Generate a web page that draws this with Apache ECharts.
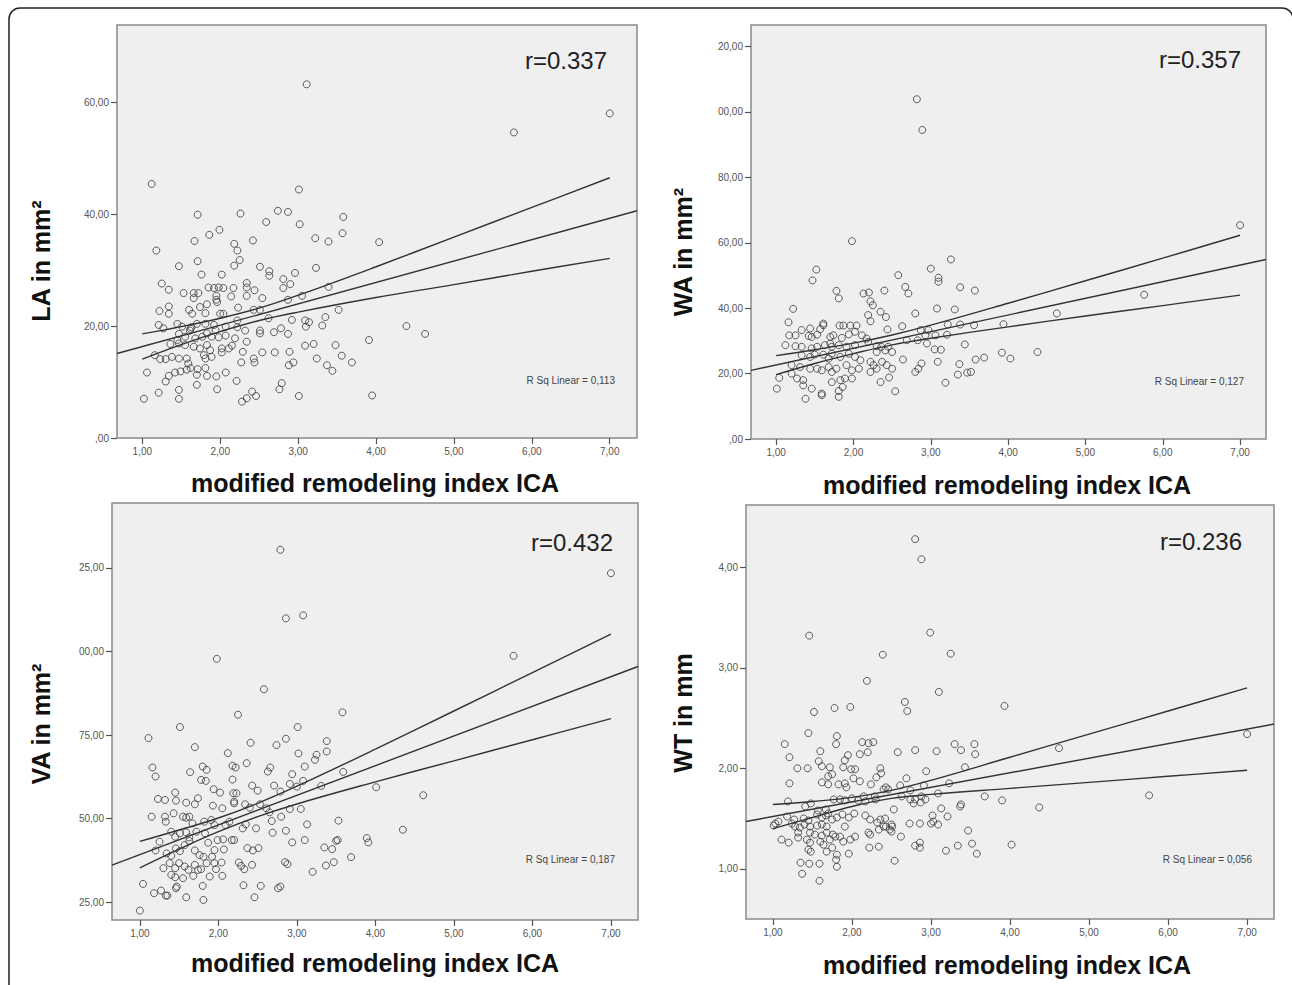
<!DOCTYPE html>
<html>
<head>
<meta charset="utf-8">
<title>Remodeling index vs. LA / WA / VA / WT</title>
<script src="https://cdn.jsdelivr.net/npm/echarts@6/dist/echarts.min.js"></script>
<style>
  html, body { margin: 0; padding: 0; background: #fff; }
  #chart { width: 1292px; height: 985px; }
</style>
</head>
<body>
<div id="chart"></div>
<script>
// shared x axis
var xTitle = 'modified remodeling index ICA'
var xTicks = [1, 2, 3, 4, 5, 6, 7]
var bandX = [1, 1.5, 2, 2.5, 3, 4, 5, 6, 7]

var yTitles = ['LA in mm²', 'WA in mm²', 'VA in mm²', 'WT in mm']
var rLabels = ['r=0.337', 'r=0.357', 'r=0.432', 'r=0.236']
var rSqLabels = ['R Sq Linear = 0,113', 'R Sq Linear = 0,127', 'R Sq Linear = 0,187', 'R Sq Linear = 0,056']

// ---- LA ----
var laTicks = [0, 20, 40, 60]
var laPoints = [
  [1.12,45.4],[3.01,44.4],[1.71,39.9],[2.26,40.1],[2.74,40.6],[2.87,40.4],[3.58,39.5],[2.59,38.6],[3.02,38.2],[1.99,37.2],
  [1.86,36.3],[3.57,36.6],[1.67,35.2],[2.42,35.3],[3.22,35.7],[3.39,35.1],[2.18,34.7],[2.22,33.5],[1.18,33.5],[2.25,31.8],
  [2.18,30.8],[1.71,31.6],[1.47,30.7],[2.51,30.6],[2.63,29.8],[2.63,29.0],[3.23,30.4],[1.76,29.2],[2.02,29.2],[2.96,29.5],
  [2.81,28.4],[2.90,27.5],[2.81,26.8],[1.25,27.6],[1.34,26.5],[1.85,26.9],[1.92,26.8],[1.98,26.9],[2.04,26.8],[2.17,26.8],
  [2.34,27.7],[2.34,26.9],[2.44,26.4],[1.53,25.9],[1.66,25.9],[1.72,25.9],[1.95,25.4],[1.95,24.7],[2.14,25.3],[2.34,25.4],
  [2.54,25.0],[2.87,24.7],[3.05,25.4],[3.39,27.0],[1.66,25.0],[1.83,23.9],[1.74,23.4],[1.96,24.3],[1.34,23.5],[1.22,22.7],
  [1.34,22.2],[1.60,22.9],[1.64,22.2],[1.81,22.3],[2.00,22.2],[2.04,22.2],[2.23,23.3],[2.43,22.9],[2.51,22.9],[2.62,21.4],
  [2.92,21.1],[3.09,21.0],[3.14,20.7],[3.35,21.6],[3.52,22.9],[3.31,20.1],[3.10,19.9],[1.21,20.2],[1.27,19.6],[1.45,20.4],
  [1.51,19.9],[1.62,19.5],[1.63,19.8],[1.61,19.2],[1.70,20.4],[1.81,20.4],[1.92,20.2],[1.94,19.3],[2.07,19.9],[2.22,21.0],
  [2.22,19.8],[2.32,19.2],[2.51,19.2],[2.51,18.7],[2.69,18.9],[2.78,19.6],[2.87,18.6],[1.47,18.6],[1.45,17.5],[1.55,18.1],
  [1.68,17.8],[1.77,18.1],[1.83,18.7],[1.89,18.1],[1.98,18.0],[2.07,18.3],[2.19,17.8],[2.34,17.2],[1.36,16.8],[1.47,16.9],
  [1.55,16.6],[1.66,16.3],[1.74,16.0],[1.83,16.6],[1.87,15.7],[2.02,16.0],[2.11,16.0],[2.15,16.5],[2.29,15.4],[2.54,15.3],
  [2.70,15.3],[2.89,15.4],[3.09,16.5],[3.20,16.8],[3.48,16.6],[1.16,14.8],[1.23,14.1],[1.30,14.1],[1.38,14.5],[1.47,14.2],
  [1.57,14.2],[1.59,13.3],[1.79,14.8],[1.81,14.2],[1.89,14.5],[2.02,15.3],[2.27,13.5],[2.43,14.2],[2.44,13.5],[2.88,13.0],
  [2.94,13.5],[3.24,14.2],[3.56,14.7],[3.69,13.5],[3.37,13.0],[3.44,12.0],[1.06,11.7],[1.30,10.1],[1.42,11.7],[1.34,11.1],
  [1.49,11.9],[1.57,12.2],[1.62,12.5],[1.71,12.3],[1.81,12.5],[1.70,11.3],[1.83,11.1],[1.95,11.0],[2.07,11.7],[2.21,10.2],
  [1.70,9.5],[1.21,8.1],[1.47,8.6],[1.47,7.0],[1.96,8.7],[1.02,7.0],[2.79,9.8],[2.76,8.7],[2.41,8.3],[2.46,7.5],
  [2.28,6.5],[2.34,7.1],[3.01,7.5],[3.11,63.2],[5.77,54.6],[7.00,58.0],[4.04,35.0],[4.39,20.0],[4.63,18.6],[3.91,17.5],
  [3.95,7.6]
]
var laFit = [[0.675, 15.1], [7.35, 40.6]]
var laUpper = [18.6, 19.9, 21.4, 23.2, 25.5, 30.6, 35.9, 41.2, 46.5]
var laLower = [14.1, 16.7, 19.0, 21.0, 22.5, 25.1, 27.4, 29.8, 32.1]

// ---- WA ----
var waTicks = [0, 20, 40, 60, 80, 100, 120]
var waPoints = [
  [1.98,60.5],[3.26,54.9],[1.52,51.8],[3.00,52.1],[1.47,48.5],[3.10,49.3],[3.10,48.1],[2.58,50.1],[2.67,46.5],[2.71,44.5],
  [3.38,46.4],[3.57,45.4],[1.78,45.3],[1.81,43.0],[2.13,44.5],[2.20,44.8],[2.40,45.4],[2.22,42.1],[2.25,40.9],[2.80,38.4],
  [3.08,39.9],[3.31,39.6],[1.22,39.8],[2.19,37.9],[2.22,36.0],[2.35,38.9],[2.42,37.3],[1.16,35.7],[1.61,35.3],[1.61,34.8],
  [1.33,33.3],[1.44,33.8],[1.57,33.6],[1.82,34.7],[1.87,34.7],[1.96,34.7],[2.04,34.7],[2.44,33.5],[2.63,34.5],[2.87,33.3],
  [2.97,33.3],[2.93,31.7],[3.22,35.0],[3.38,35.0],[3.56,34.8],[1.17,31.7],[1.25,31.7],[1.12,28.7],[1.42,31.5],[1.46,31.2],
  [1.53,31.9],[1.70,31.2],[1.74,31.7],[1.85,30.9],[1.94,32.0],[2.02,32.8],[2.11,31.7],[2.17,30.7],[2.19,29.7],[2.30,28.4],
  [2.36,28.2],[2.45,28.2],[2.69,30.2],[2.83,30.2],[3.06,31.7],[3.21,31.9],[2.95,29.2],[3.44,28.9],[1.25,28.4],[1.33,28.2],
  [1.46,27.7],[1.53,28.2],[1.63,28.7],[1.70,29.2],[1.72,28.2],[1.81,28.7],[1.91,28.2],[2.02,28.7],[2.30,26.6],[2.41,27.1],
  [2.50,26.6],[2.64,24.3],[2.88,23.1],[2.84,21.5],[2.80,20.5],[3.05,27.4],[3.13,27.3],[3.09,23.6],[3.37,22.9],[3.58,24.3],
  [3.69,24.9],[3.19,17.2],[3.35,19.7],[3.47,20.3],[3.52,20.5],[1.33,25.6],[1.44,25.1],[1.50,25.8],[1.61,25.8],[1.68,24.6],
  [1.72,26.1],[1.83,25.1],[1.94,26.1],[2.02,25.1],[2.09,24.1],[2.22,23.6],[2.26,22.6],[2.37,23.6],[2.43,22.6],[2.50,21.5],
  [1.20,22.6],[1.31,22.0],[1.44,21.5],[1.53,21.5],[1.59,21.0],[1.68,22.0],[1.72,20.5],[1.78,21.5],[1.91,22.6],[1.98,21.0],
  [2.07,21.5],[2.22,20.5],[2.30,21.5],[2.46,18.8],[2.35,17.4],[1.04,18.7],[1.01,15.4],[1.20,20.0],[1.27,18.5],[1.35,18.0],
  [1.35,16.4],[1.46,15.4],[1.38,12.3],[1.59,13.4],[1.59,13.9],[1.72,17.4],[1.83,18.0],[1.89,18.5],[1.81,14.7],[1.81,12.9],
  [1.98,18.5],[2.54,14.6],[1.86,15.9],[2.82,103.9],[2.89,94.5],[7.00,65.4],[5.76,44.1],[4.63,38.4],[3.94,35.1],[3.92,26.4],
  [4.03,24.6],[4.38,26.6]
]
var waFit = [[0.675, 21.0], [7.335, 54.9]]
var waUpper = [25.5, 27.3, 29.3, 31.8, 34.8, 41.5, 48.4, 55.3, 62.3]
var waLower = [19.7, 23.1, 26.1, 28.8, 30.8, 34.3, 37.6, 40.8, 44.0]

// ---- VA ----
var vaTicks = [25, 50, 75, 100, 125]
var vaPoints = [
  [1.98,97.8],[2.58,88.7],[3.58,81.8],[2.25,81.1],[1.51,77.4],[3.01,77.4],[1.11,74.1],[2.86,73.9],[2.74,72.0],[2.41,72.7],
  [3.38,73.2],[3.38,70.1],[1.70,71.4],[2.12,69.6],[3.02,69.5],[3.25,69.1],[3.23,67.6],[1.16,65.3],[1.20,62.6],[1.80,65.6],
  [1.85,64.6],[1.64,63.9],[2.18,65.8],[2.22,65.3],[2.36,66.6],[2.63,64.1],[2.66,65.3],[3.10,65.6],[3.59,64.0],[1.78,61.6],
  [1.84,61.3],[2.18,61.7],[2.94,63.3],[2.91,60.4],[3.00,59.6],[3.08,61.3],[3.31,59.8],[2.71,59.9],[2.43,59.9],[2.50,58.4],
  [1.94,58.8],[2.02,57.8],[2.19,57.6],[2.23,57.6],[1.45,57.8],[1.46,55.4],[1.23,55.9],[1.32,55.6],[1.59,54.8],[1.70,54.3],
  [1.74,56.1],[1.93,53.9],[2.05,53.1],[2.20,55.1],[2.20,54.6],[2.34,54.3],[2.40,53.3],[2.53,54.3],[2.61,53.1],[2.65,51.9],
  [2.79,58.1],[2.91,52.9],[3.05,52.9],[1.15,50.6],[1.32,50.6],[1.33,49.1],[1.43,51.6],[1.55,50.6],[1.59,50.3],[1.63,50.6],
  [1.67,48.6],[1.82,49.1],[1.91,49.6],[1.95,48.1],[2.09,48.1],[2.14,49.1],[2.31,47.1],[2.35,48.3],[2.48,47.1],[2.68,49.3],
  [2.69,45.8],[2.80,50.6],[2.86,46.4],[3.13,48.3],[1.25,43.1],[1.40,46.1],[1.45,44.6],[1.51,45.6],[1.59,45.9],[1.63,44.4],
  [1.72,46.1],[1.83,45.6],[1.87,42.8],[1.99,43.6],[2.06,43.8],[2.17,43.6],[2.20,43.6],[1.20,40.5],[1.34,39.6],[1.40,38.9],
  [1.46,41.1],[1.51,40.3],[1.57,42.1],[1.63,43.3],[1.70,40.5],[1.76,39.1],[1.81,38.6],[1.92,38.6],[1.95,40.6],[2.07,40.8],
  [2.37,41.2],[2.44,40.5],[2.51,41.2],[2.94,42.9],[3.10,43.6],[3.35,41.4],[3.45,40.9],[3.52,43.6],[3.69,38.5],[1.30,35.2],
  [1.38,36.7],[1.45,35.2],[1.50,36.7],[1.57,35.7],[1.62,34.7],[1.70,36.2],[1.78,34.9],[1.85,36.7],[1.95,36.7],[2.04,36.9],
  [2.26,36.9],[2.29,35.9],[2.33,34.9],[2.43,36.2],[2.85,37.0],[2.88,36.4],[3.20,34.1],[3.37,36.0],[3.47,37.0],[1.40,33.2],
  [1.45,32.5],[1.55,32.2],[1.68,32.9],[1.74,34.7],[1.89,32.7],[1.97,34.9],[2.05,32.9],[1.04,30.5],[1.18,27.7],[1.27,28.5],
  [1.33,27.0],[1.35,27.0],[1.47,29.7],[1.46,29.2],[1.59,26.5],[1.80,29.9],[1.81,25.7],[2.32,30.1],[2.54,29.9],[2.46,26.5],
  [2.76,29.2],[2.79,29.7],[1.00,22.5],[2.79,130.4],[2.86,109.9],[3.08,110.8],[7.00,123.4],[5.76,98.7],[4.01,59.4],[4.61,57.0],
  [4.35,46.7],[3.89,44.2],[3.91,42.9],[3.53,49.4],[3.50,43.4]
]
var vaFit = [[0.645, 36.1], [7.345, 95.5]]
var vaUpper = [43.2, 46.6, 50.2, 54.6, 59.7, 70.8, 82.2, 93.7, 105.2]
var vaLower = [35.3, 40.9, 46.1, 50.6, 54.4, 61.0, 67.3, 73.6, 79.9]

// ---- WT ----
var wtTicks = [1, 2, 3, 4]
var wtPoints = [
  [1.52,2.56],[1.78,2.60],[1.98,2.61],[1.45,2.35],[1.81,2.32],[1.80,2.24],[1.15,2.24],[2.13,2.26],[2.21,2.25],[2.27,2.26],
  [2.10,2.14],[2.20,2.16],[3.30,2.24],[3.38,2.18],[3.55,2.24],[3.56,2.14],[2.58,2.16],[2.80,2.18],[3.07,2.17],[1.21,2.11],
  [1.60,2.17],[1.58,2.07],[1.91,2.08],[1.95,2.13],[1.89,2.01],[1.31,2.00],[1.44,2.00],[1.62,2.02],[1.72,2.01],[1.75,1.94],
  [1.70,1.92],[1.99,1.99],[2.04,1.99],[2.02,1.90],[2.36,2.00],[2.37,1.95],[2.31,1.91],[2.94,1.97],[3.43,2.01],[1.21,1.85],
  [1.62,1.86],[1.70,1.84],[1.83,1.84],[1.91,1.85],[1.93,1.81],[2.10,1.87],[2.24,1.84],[2.43,1.81],[2.46,1.79],[2.40,1.79],
  [2.69,1.90],[2.61,1.83],[2.74,1.78],[2.91,1.83],[3.23,1.85],[3.09,1.75],[1.19,1.67],[1.41,1.62],[1.48,1.65],[1.57,1.58],
  [1.67,1.59],[1.70,1.55],[1.77,1.69],[1.85,1.69],[1.91,1.68],[2.00,1.70],[2.08,1.68],[2.15,1.72],[2.17,1.67],[2.29,1.72],
  [2.30,1.69],[2.63,1.72],[2.74,1.69],[2.80,1.69],[2.88,1.72],[2.93,1.69],[2.53,1.59],[2.78,1.65],[2.87,1.66],[3.13,1.60],
  [3.21,1.52],[3.38,1.64],[3.37,1.62],[3.68,1.72],[1.18,1.52],[1.27,1.49],[1.39,1.50],[1.45,1.48],[1.56,1.54],[1.62,1.51],
  [1.67,1.53],[1.75,1.49],[1.81,1.51],[1.88,1.54],[1.96,1.51],[2.03,1.55],[2.17,1.53],[2.23,1.49],[2.32,1.46],[2.36,1.49],
  [2.42,1.50],[2.43,1.42],[2.48,1.39],[2.51,1.42],[2.73,1.45],[2.86,1.45],[3.00,1.45],[3.03,1.47],[3.09,1.44],[1.03,1.45],
  [1.01,1.43],[1.07,1.47],[1.24,1.45],[1.28,1.42],[1.34,1.41],[1.40,1.44],[1.47,1.42],[1.56,1.43],[1.62,1.44],[1.68,1.42],
  [1.47,1.36],[1.53,1.34],[1.62,1.33],[1.68,1.36],[1.76,1.34],[1.32,1.36],[1.11,1.29],[1.20,1.26],[1.32,1.31],[1.43,1.29],
  [1.47,1.26],[1.60,1.27],[1.64,1.24],[1.72,1.29],[1.79,1.32],[1.85,1.32],[1.91,1.42],[1.89,1.27],[1.98,1.29],[2.04,1.32],
  [2.21,1.36],[2.23,1.34],[2.34,1.39],[2.40,1.42],[2.50,1.44],[2.50,1.37],[2.62,1.32],[3.02,1.53],[2.80,1.23],[2.86,1.26],
  [2.86,1.21],[3.19,1.18],[3.34,1.23],[3.52,1.25],[3.58,1.15],[3.47,1.38],[2.34,1.22],[2.22,1.21],[1.96,1.15],[1.45,1.19],
  [1.48,1.17],[1.68,1.17],[1.75,1.21],[1.81,1.14],[1.80,1.09],[1.81,1.02],[2.54,1.08],[1.35,1.06],[1.46,1.05],[1.59,1.05],
  [1.37,0.95],[1.59,0.88],[2.80,4.28],[2.88,4.08],[1.46,3.32],[2.99,3.35],[2.39,3.13],[3.25,3.14],[2.19,2.87],[3.10,2.76],
  [2.67,2.66],[2.70,2.57],[3.93,2.62],[4.62,2.20],[7.00,2.34],[5.76,1.73],[4.37,1.61],[3.90,1.68],[4.02,1.24]
]
var wtFit = [[0.66, 1.47], [7.34, 2.44]]
var wtUpper = [1.64, 1.67, 1.71, 1.78, 1.88, 2.11, 2.34, 2.57, 2.80]
var wtLower = [1.40, 1.51, 1.62, 1.70, 1.74, 1.80, 1.86, 1.92, 1.98]

// layout of the four panels (pixels) and their axis ranges
var panels = [
  { grid: { left: 117, top: 25, width: 520, height: 413 }, xr: [0.675, 7.35], yr: [0, 73.8], ticks: laTicks,
    points: laPoints, fit: laFit, upper: laUpper, lower: laLower, yTitle: [41, 261], xTitle: [375, 483], r: [607, 60], rsq: [615, 380] },
  { grid: { left: 751, top: 25, width: 515, height: 414 }, xr: [0.675, 7.335], yr: [0, 126.6], ticks: waTicks,
    points: waPoints, fit: waFit, upper: waUpper, lower: waLower, yTitle: [683, 252], xTitle: [1007, 485], r: [1241, 59], rsq: [1244, 381] },
  { grid: { left: 112, top: 503, width: 526, height: 417 }, xr: [0.645, 7.345], yr: [19.7, 144.4], ticks: vaTicks,
    points: vaPoints, fit: vaFit, upper: vaUpper, lower: vaLower, yTitle: [41, 724], xTitle: [375, 963], r: [613, 542], rsq: [615, 859] },
  { grid: { left: 746, top: 505, width: 528, height: 414 }, xr: [0.66, 7.34], yr: [0.5, 4.62], ticks: wtTicks,
    points: wtPoints, fit: wtFit, upper: wtUpper, lower: wtLower, yTitle: [683, 713], xTitle: [1007, 965], r: [1242, 541], rsq: [1252, 859] }
]

var FONT = '"Liberation Sans", Arial, Helvetica, sans-serif'

// SPSS writes ",00" for zero and a comma as decimal mark;
// the source picture is cropped so 3-digit labels lose their first digit
function spssLabel(v) {
  var s = v === 0 ? ',00' : v.toFixed(2).replace('.', ',')
  return s.length > 5 ? s.slice(-5) : s
}

function pairs(xs, ys) {
  return xs.map(function (x, k) { return [x, ys[k]] })
}

var grids = [], xAxes = [], yAxes = [], series = [], texts = []

panels.forEach(function (p, i) {
  grids.push(Object.assign({
    show: true,
    backgroundColor: '#efefef',
    borderColor: '#8a8a8a',
    borderWidth: 1.5,
    outerBoundsMode: 'none',
    containLabel: false
  }, p.grid))

  xAxes.push({
    gridIndex: i, type: 'value', min: p.xr[0], max: p.xr[1],
    axisLine: { show: false },
    splitLine: { show: false },
    axisTick: { show: true, customValues: xTicks, length: 6, lineStyle: { color: '#555', width: 1.2 } },
    axisLabel: { customValues: xTicks, formatter: spssLabel, fontSize: 10, color: '#555', margin: 8, fontFamily: FONT }
  })
  yAxes.push({
    gridIndex: i, type: 'value', min: p.yr[0], max: p.yr[1],
    axisLine: { show: false },
    splitLine: { show: false },
    axisTick: { show: true, customValues: p.ticks, length: 6, lineStyle: { color: '#555', width: 1.2 } },
    axisLabel: { customValues: p.ticks, formatter: spssLabel, fontSize: 10, color: '#555', margin: 8, fontFamily: FONT }
  })

  series.push({
    type: 'scatter', xAxisIndex: i, yAxisIndex: i, data: p.points,
    symbol: 'circle', symbolSize: 7, silent: true, z: 3,
    itemStyle: { color: 'rgba(0,0,0,0)', borderColor: '#383838', borderWidth: 1 }
  })
  series.push({
    type: 'line', xAxisIndex: i, yAxisIndex: i, data: p.fit,
    showSymbol: false, silent: true, z: 4,
    lineStyle: { color: '#333', width: 1.4 }
  })
  series.push({
    type: 'line', xAxisIndex: i, yAxisIndex: i, data: pairs(bandX, p.upper),
    showSymbol: false, silent: true, smooth: 0.4, z: 4,
    lineStyle: { color: '#333', width: 1.4 }
  })
  series.push({
    type: 'line', xAxisIndex: i, yAxisIndex: i, data: pairs(bandX, p.lower),
    showSymbol: false, silent: true, smooth: 0.4, z: 4,
    lineStyle: { color: '#333', width: 1.4 }
  })

  texts.push({
    type: 'text', x: p.yTitle[0], y: p.yTitle[1], rotation: Math.PI / 2, z: 10,
    style: { text: yTitles[i], fontSize: 25, fontWeight: 'bold', fontFamily: FONT, fill: '#111',
             align: 'center', verticalAlign: 'middle', textAlign: 'center', textVerticalAlign: 'middle' }
  })
  texts.push({
    type: 'text', x: p.xTitle[0], y: p.xTitle[1], z: 10,
    style: { text: xTitle, fontSize: 25, fontWeight: 'bold', fontFamily: FONT, fill: '#111',
             align: 'center', verticalAlign: 'middle', textAlign: 'center', textVerticalAlign: 'middle' }
  })
  texts.push({
    type: 'text', x: p.r[0], y: p.r[1], z: 10,
    style: { text: rLabels[i], fontSize: 24, fontFamily: FONT, fill: '#222',
             align: 'right', verticalAlign: 'middle', textAlign: 'right', textVerticalAlign: 'middle' }
  })
  texts.push({
    type: 'text', x: p.rsq[0], y: p.rsq[1], z: 10,
    style: { text: rSqLabels[i], fontSize: 10, fontFamily: FONT, fill: '#444',
             align: 'right', verticalAlign: 'middle', textAlign: 'right', textVerticalAlign: 'middle' }
  })
})

// the figure's outer rounded frame; its right and bottom edges fall outside the picture
texts.push({
  type: 'rect', z: 0, silent: true,
  shape: { x: 9, y: 8, width: 1284, height: 1100, r: 11 },
  style: { fill: 'none', stroke: '#222', lineWidth: 1.5 }
})

var myChart = echarts.init(document.getElementById('chart'), null, { renderer: 'svg', width: 1292, height: 985 })

myChart.setOption({
  animation: false,
  backgroundColor: '#fff',
  grid: grids,
  xAxis: xAxes,
  yAxis: yAxes,
  series: series,
  graphic: { elements: texts }
})
</script>
</body>
</html>
